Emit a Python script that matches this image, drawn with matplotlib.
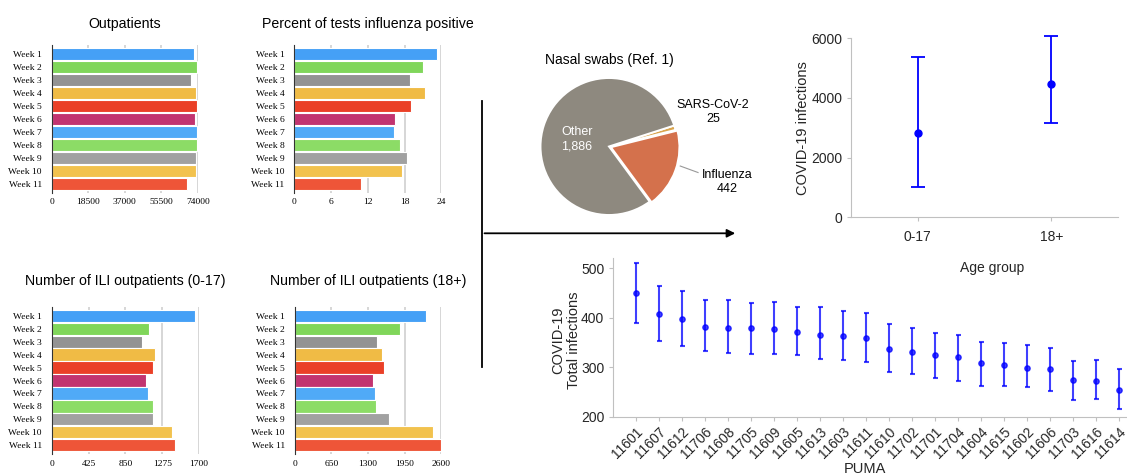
import matplotlib
matplotlib.use('Agg')
import matplotlib.pyplot as plt
import numpy as np
from matplotlib.lines import Line2D
from matplotlib.patches import FancyArrowPatch

# ---- data ----
weeks = ['Week %d' % i for i in range(1, 12)]
outpatients = [71980, 73500, 70460, 72990, 73330, 72650, 73330, 73330, 72990, 72990, 68270]
pct_positive = [23.35, 21.0, 18.95, 21.35, 19.1, 16.45, 16.35, 17.25, 18.45, 17.65, 10.85]
ili_0_17 = [1650, 1119, 1038, 1192, 1173, 1088, 1115, 1173, 1165, 1392, 1419]
ili_18_plus = [2322, 1867, 1454, 1548, 1584, 1383, 1424, 1436, 1666, 2452, 2600]

swab_labels = ['Influenza', 'SARS-CoV-2', 'Other']
swab_counts = [442, 25, 1886]

age_groups = ['0-17', '18+']
age_mean = [2840, 4460]
age_low = [1000, 3150]
age_high = [5380, 6070]

puma = ['11601', '11607', '11612', '11706', '11608', '11705', '11609', '11605',
        '11613', '11603', '11611', '11610', '11702', '11701', '11704', '11604',
        '11615', '11602', '11606', '11703', '11616', '11614']
puma_mean = [449, 407, 397.5, 381.5, 379.5, 379.5, 376.5, 370.5, 366, 363, 358.5,
             336, 330, 324.5, 320, 308, 304, 299, 295.5, 274, 272, 254.5]
puma_low = [390, 352, 343.5, 333.5, 329.5, 327.5, 327.5, 325.5, 316.5, 314.5, 310,
            291, 287, 277.5, 272, 262.5, 262.5, 260.5, 252, 233.5, 236.5, 215.5]
puma_high = [510, 463.5, 453.5, 435.5, 436, 430.5, 432, 422, 421, 413.5, 409.5,
             387, 380, 369, 366, 351.5, 348.5, 344.5, 338, 312.5, 315.5, 296.5]

week_colors = ['#45a0f6', '#80d65a', '#939393', '#f0bb45', '#ea4027', '#c23470',
               '#50aaf7', '#8cdc66', '#a1a1a1', '#f2c24e', '#ee5538']

SERIF = 'Liberation Serif'
SANS = 'Liberation Sans'
W, H = 1127.0, 474.0

fig = plt.figure(figsize=(11.27, 4.74), dpi=100)


def px_rect(x0, y0, x1, y1):
  # pixel box (top-left origin) -> figure fraction rect
  return [x0 / W, 1 - y1 / H, (x1 - x0) / W, (y1 - y0) / H]


def week_bars(rect, values, ticks, title, title_pad):
  ax = fig.add_axes(rect)
  y = np.arange(len(weeks))
  ax.barh(y, values, height=0.96, color=week_colors, edgecolor='white',
          linewidth=0.8, zorder=2)
  ax.set_ylim(len(weeks) - 0.31, -0.69)
  ax.set_xlim(0, ticks[-1])
  ax.set_xticks(ticks)
  ax.set_xticklabels([str(t) for t in ticks], fontfamily=SERIF, fontsize=6.8)
  ax.set_yticks(y)
  ax.set_yticklabels(weeks, fontfamily=SERIF, fontsize=6.8)
  ax.tick_params(axis='x', length=0, pad=4)
  ax.tick_params(axis='y', length=0, pad=7)
  ax.grid(axis='x', color='#d0d0d0', linewidth=1.2)
  ax.set_axisbelow(True)
  for s in ['top', 'right', 'bottom']:
    ax.spines[s].set_visible(False)
  ax.spines['left'].set_color('#333333')
  ax.spines['left'].set_zorder(3)
  ax.set_title(title, fontfamily=SANS, fontsize=10.2, pad=title_pad)
  return ax


week_bars(px_rect(51.7, 45, 198, 192.7), outpatients,
          [0, 18500, 37000, 55500, 74000], 'Outpatients', 12)
week_bars(px_rect(294.3, 45, 441.3, 192.7), pct_positive,
          [0, 6, 12, 18, 24], 'Percent of tests influenza positive', 12)
week_bars(px_rect(51.7, 307, 199, 454), ili_0_17,
          [0, 425, 850, 1275, 1700], 'Number of ILI outpatients (0-17)', 16)
week_bars(px_rect(294.7, 307, 441.3, 454), ili_18_plus,
          [0, 650, 1300, 1950, 2600], 'Number of ILI outpatients (18+)', 16)

# ---- divider line and arrow ----
fig.add_artist(Line2D([481.7 / W, 481.7 / W], [1 - 100.7 / H, 1 - 366.7 / H],
                      color='black', linewidth=1.3))
fig.add_artist(FancyArrowPatch((481.7 / W, 1 - 233.3 / H), (738 / W, 1 - 233.3 / H),
                               transform=fig.transFigure, arrowstyle='-|>',
                               mutation_scale=12, color='black', linewidth=1.3))

# ---- pie ----
R = 68.5
cx, cy = 609.0, 146.5
half = 1.25 * R
axp = fig.add_axes(px_rect(cx - half, cy - half, cx + half, cy + half))
start = -360.0 * swab_counts[0] / sum(swab_counts) / 2 - 20
wedges, _ = axp.pie(swab_counts, colors=['#d4714c', '#d9a54e', '#8e897f'],
                    startangle=-53.6, counterclock=True, explode=[0.03, 0, 0],
                    wedgeprops=dict(edgecolor='white', linewidth=1.4))
axp.set_xlim(-1.25, 1.25)
axp.set_ylim(-1.25, 1.25)
axp.text(-0.47, 0.105, 'Other\n%s' % format(swab_counts[2], ','), color='white',
         ha='center', va='center', fontsize=9, fontfamily=SANS, linespacing=1.25)
axp.text(1.52, 0.50, '%s\n%d' % (swab_labels[1], swab_counts[1]), color='black',
         ha='center', va='center', fontsize=9, fontfamily=SANS, linespacing=1.25)
axp.text(1.72, -0.52, '%s\n%d' % (swab_labels[0], swab_counts[0]), color='black',
         ha='center', va='center', fontsize=9, fontfamily=SANS, linespacing=1.25)
axp.plot([1.04, 1.30], [-0.285, -0.38], color='#999999', linewidth=0.8, clip_on=False)
fig.text(609 / W, 1 - 60 / H, 'Nasal swabs (Ref. 1)', ha='center', va='center',
         fontsize=10, fontfamily=SANS)


def matlab_axes(ax):
  for s in ['top', 'right']:
    ax.spines[s].set_visible(False)
  for s in ['left', 'bottom']:
    ax.spines[s].set_color('#c0c0c0')
  ax.tick_params(direction='out', length=3, color='#c0c0c0', labelcolor='#262626',
                 labelsize=10, pad=3)
  for lab in ax.get_xticklabels() + ax.get_yticklabels():
    lab.set_fontfamily(SANS)


# ---- age group error bars ----
axa = fig.add_axes(px_rect(851, 38.3, 1118, 217.3))
xa = np.arange(1, len(age_groups) + 1)
am = np.array(age_mean)
axa.errorbar(xa, am, yerr=[am - np.array(age_low), np.array(age_high) - am],
             fmt='o', color='blue', markersize=5, capsize=5.3, elinewidth=1.3,
             capthick=1.3, clip_on=False)
axa.set_xlim(0.5, 2.5)
axa.set_ylim(0, 6000)
axa.set_xticks(xa)
axa.set_xticklabels(age_groups)
axa.set_yticks([0, 2000, 4000, 6000])
matlab_axes(axa)
axa.tick_params(axis='x', pad=6)
fig.text(803 / W, 1 - 128 / H, 'COVID-19 infections', rotation=90, ha='center',
         va='center', fontsize=10.5, fontfamily=SANS, color='#262626')
fig.text(992 / W, 1 - 268.3 / H, 'Age group', ha='center', va='center',
         fontsize=10, fontfamily=SANS, color='#262626')

# ---- PUMA error bars ----
axb = fig.add_axes(px_rect(612.7, 258.3, 612.7 + 23 * 23, 416.7))
xb = np.arange(1, len(puma) + 1)
pm = np.array(puma_mean)
axb.errorbar(xb, pm, yerr=[pm - np.array(puma_low), np.array(puma_high) - pm],
             fmt='o', color='blue', alpha=0.75, markersize=3.8, capsize=1.8,
             elinewidth=1.5, capthick=1.5, clip_on=False)
axb.set_xlim(0, 23)
axb.set_ylim(200, 520)
axb.set_yticks([200, 300, 400, 500])
axb.set_xticks(xb)
axb.set_xticklabels(puma, rotation=45, ha='right', va='top', rotation_mode='anchor')
matlab_axes(axb)
fig.text(566 / W, 1 - 340 / H, 'COVID-19\nTotal infections', rotation=90,
         ha='center', va='center', multialignment='center', fontsize=10.5,
         fontfamily=SANS, color='#262626', linespacing=1.2)
fig.text(865 / W, 1 - 462 / H, 'PUMA', ha='center', va='top', fontsize=10.5,
         fontfamily=SANS, color='#262626')

fig.savefig('out.png', dpi=100)
